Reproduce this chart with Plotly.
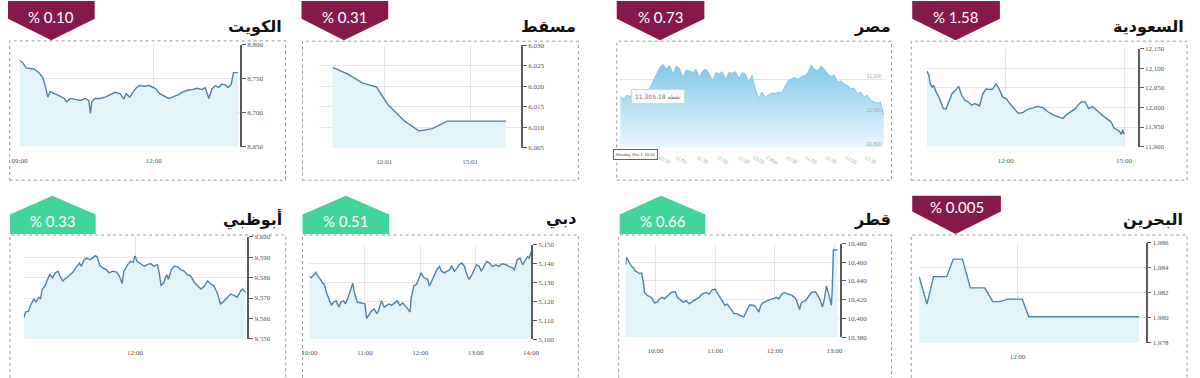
import pandas as pd
import plotly.graph_objects as go

DAY = "2021-03-01 "

# ---------------- data ----------------
kuwait_time = ["09:00", "09:04", "09:09", "09:13", "09:20", "09:26", "09:31", "09:34", "09:38", "09:41",
               "09:46", "09:53", "10:00", "10:03", "10:08", "10:15", "10:22", "10:28", "10:33", "10:35",
               "10:37", "10:41", "10:48", "10:55", "11:01", "11:08", "11:15", "11:20", "11:23", "11:28",
               "11:32", "11:37", "11:41", "11:48", "11:54", "11:59", "12:03", "12:08", "12:14", "12:20",
               "12:25", "12:32", "12:38", "12:45", "12:52", "12:58", "13:05", "13:09", "13:14", "13:18",
               "13:23", "13:27", "13:31", "13:36", "13:40", "13:44", "13:47", "13:51", "13:53"]
kuwait_value = [8777, 8774, 8766, 8765, 8764, 8759, 8752, 8742, 8723, 8731,
                8728, 8725, 8721, 8716, 8721, 8719, 8718, 8721, 8718, 8699,
                8716, 8721, 8721, 8723, 8726, 8730, 8728, 8720, 8728, 8723,
                8730, 8737, 8740, 8739, 8740, 8737, 8735, 8728, 8724, 8721,
                8723, 8726, 8730, 8733, 8734, 8736, 8734, 8737, 8721, 8735,
                8740, 8737, 8742, 8741, 8737, 8742, 8759, 8759, 8759]

muscat_time = ["10:13", "10:44", "11:15", "11:45", "12:09", "12:44", "13:14", "13:42", "14:13", "14:47", "16:16"]
muscat_value = [6024.6, 6023.0, 6020.8, 6019.8, 6015.5, 6011.5, 6009.1, 6009.7, 6011.5, 6011.5, 6011.5]

egypt_value = [11098, 11088, 11108, 11098, 11136, 11131, 11127, 11136, 11142, 11146,
               11194, 11233, 11271, 11290, 11261, 11285, 11233, 11281, 11265, 11213,
               11256, 11252, 11242, 11261, 11213, 11252, 11261, 11233, 11194, 11242,
               11236, 11246, 11200, 11242, 11238, 11246, 11204, 11242, 11233, 11185,
               11227, 11146, 11088, 11127, 11098, 11108, 11123, 11117, 11127, 11123,
               11156, 11194, 11204, 11213, 11200, 11219, 11223, 11242, 11285, 11261,
               11252, 11281, 11261, 11233, 11219, 11227, 11185, 11194, 11175, 11165,
               11146, 11150, 11117, 11127, 11098, 11108, 11079, 11069, 11060, 11069, 10992]
egypt_tick_pos = [12, 17, 23.5, 29.5, 36, 40.5, 44.5, 50.5, 56.5, 62.5, 68.5, 74.5, 79.5]
egypt_tick_text = ["10:30", "11:00", "11:30", "12:00", "12:30", "13:00", "2 Mar", "10:30",
                   "11:00", "11:30", "12:00", "12:30", "13:00"]
egypt_y_ticks = [10800, 11000, 11200]

saudi_time = ["10:00", "10:03", "10:05", "10:08", "10:10", "10:14", "10:18", "10:21", "10:25", "10:29",
              "10:33", "10:38", "10:43", "10:48", "10:53", "10:58", "11:03", "11:08", "11:13", "11:20",
              "11:25", "11:30", "11:36", "11:40", "11:45", "11:50", "11:55", "12:01", "12:06", "12:12",
              "12:19", "12:26", "12:34", "12:42", "12:49", "12:57", "13:04", "13:12", "13:20", "13:27",
              "13:32", "13:40", "13:46", "13:50", "13:55", "14:01", "14:06", "14:12", "14:18", "14:25",
              "14:33", "14:40", "14:45", "14:50", "14:53", "14:56", "14:58", "15:00"]
saudi_value = [12093, 12081, 12060, 12052, 12057, 12039, 12027, 12014, 11997, 11996,
               12014, 12035, 12043, 12054, 12031, 12018, 12014, 12006, 12010, 12004,
               12035, 12047, 12046, 12047, 12060, 12047, 12027, 12022, 12010, 11999,
               11985, 11987, 11996, 11999, 12003, 11999, 11989, 11981, 11977, 11972,
               11981, 11989, 11997, 12006, 12014, 12014, 11997, 12002, 11993, 11985,
               11972, 11964, 11947, 11943, 11939, 11931, 11943, 11932]

abudhabi_time = ["10:00", "10:02", "10:05", "10:08", "10:11", "10:13", "10:16", "10:18", "10:20", "10:23",
                 "10:25", "10:28", "10:31", "10:34", "10:37", "10:39", "10:42", "10:46", "10:49", "10:53",
                 "10:56", "11:00", "11:02", "11:05", "11:08", "11:11", "11:14", "11:17", "11:19", "11:22",
                 "11:25", "11:29", "11:32", "11:36", "11:40", "11:43", "11:46", "11:48", "11:52", "11:55",
                 "11:58", "12:00", "12:02", "12:06", "12:10", "12:13", "12:17", "12:20", "12:24", "12:26",
                 "12:28", "12:31", "12:34", "12:36", "12:39", "12:42", "12:46", "12:49", "12:53", "12:56",
                 "13:00", "13:04", "13:07", "13:11", "13:15", "13:18", "13:22", "13:25", "13:29", "13:32",
                 "13:36", "13:40", "13:43", "13:47", "13:50", "13:54", "13:56", "13:59"]
abudhabi_value = [9560.3, 9563.1, 9563.5, 9567.1, 9569.6, 9568.0, 9570.4, 9569.6, 9574.4, 9576.0,
                  9578.4, 9581.6, 9580.0, 9582.4, 9583.2, 9580.8, 9578.4, 9580.0, 9580.8, 9582.7,
                  9584.8, 9587.2, 9585.6, 9588.8, 9589.6, 9588.8, 9589.6, 9590.7, 9590.4, 9585.9,
                  9584.8, 9584.0, 9582.4, 9583.2, 9582.7, 9580.8, 9577.2, 9583.2, 9586.4, 9588.0,
                  9587.5, 9590.7, 9588.0, 9586.9, 9585.6, 9586.4, 9586.9, 9585.6, 9586.4, 9582.4,
                  9576.0, 9577.6, 9581.6, 9579.2, 9584.0, 9585.6, 9585.3, 9584.0, 9583.2, 9581.6,
                  9580.8, 9577.6, 9576.0, 9574.4, 9576.0, 9578.4, 9576.8, 9576.0, 9572.0, 9567.1,
                  9568.6, 9570.4, 9572.0, 9571.2, 9570.4, 9573.6, 9574.4, 9572.8]

dubai_time = ["10:00", "10:02", "10:05", "10:07", "10:09", "10:12", "10:14", "10:16", "10:19", "10:22",
              "10:24", "10:26", "10:29", "10:32", "10:34", "10:37", "10:39", "10:42", "10:45", "10:47",
              "10:49", "10:52", "10:56", "11:00", "11:02", "11:05", "11:07", "11:10", "11:13", "11:15",
              "11:18", "11:21", "11:24", "11:26", "11:29", "11:32", "11:35", "11:38", "11:41", "11:45",
              "11:49", "11:50", "11:53", "11:56", "11:58", "12:01", "12:04", "12:08", "12:10", "12:13",
              "12:15", "12:18", "12:21", "12:23", "12:26", "12:29", "12:32", "12:34", "12:37", "12:40",
              "12:42", "12:45", "12:48", "12:51", "12:53", "12:56", "12:58", "13:01", "13:04", "13:06",
              "13:09", "13:12", "13:15", "13:18", "13:22", "13:25", "13:29", "13:33", "13:36", "13:40",
              "13:42", "13:45", "13:48", "13:51", "13:53", "13:56", "13:58", "14:00"]
dubai_value = [5133.3, 5132.4, 5134.1, 5135.3, 5133.3, 5131.6, 5129.8, 5129.0, 5123.8, 5120.3,
               5117.8, 5119.5, 5120.3, 5116.9, 5119.5, 5120.3, 5118.6, 5122.1, 5126.4, 5129.5,
               5123.8, 5119.5, 5119.1, 5118.6, 5110.9, 5113.4, 5114.7, 5116.0, 5113.4, 5115.2,
               5120.3, 5116.9, 5117.8, 5118.6, 5117.8, 5119.1, 5120.3, 5117.8, 5119.1, 5116.9,
               5114.3, 5121.2, 5128.1, 5129.0, 5131.6, 5135.0, 5132.4, 5131.6, 5128.1, 5131.6,
               5134.1, 5136.7, 5138.4, 5135.9, 5135.0, 5135.9, 5136.7, 5138.8, 5135.9, 5137.6,
               5139.3, 5140.2, 5138.4, 5133.3, 5131.6, 5134.1, 5135.9, 5139.3, 5138.4, 5135.9,
               5138.4, 5141.0, 5140.2, 5138.4, 5139.3, 5138.4, 5139.8, 5139.3, 5138.4, 5137.6,
               5136.7, 5141.9, 5142.8, 5139.3, 5141.0, 5143.6, 5142.8, 5146.2]

qatar_time = ["09:30", "09:31", "09:33", "09:36", "09:38", "09:40", "09:42", "09:44", "09:46", "09:48",
              "09:49", "09:52", "09:54", "09:57", "09:59", "10:02", "10:04", "10:07", "10:09", "10:13",
              "10:16", "10:20", "10:22", "10:26", "10:28", "10:31", "10:34", "10:37", "10:41", "10:44",
              "10:47", "10:51", "10:54", "10:57", "11:00", "11:02", "11:05", "11:07", "11:10", "11:12",
              "11:15", "11:17", "11:19", "11:22", "11:25", "11:29", "11:32", "11:35", "11:39", "11:41",
              "11:44", "11:46", "11:48", "11:52", "11:55", "11:58", "12:02", "12:04", "12:07", "12:10",
              "12:13", "12:17", "12:20", "12:22", "12:25", "12:27", "12:31", "12:34", "12:37", "12:41",
              "12:43", "12:45", "12:48", "12:50", "12:52", "12:54", "12:56", "12:57", "12:58", "12:59",
              "13:03"]
qatar_value = [10457.4, 10465.4, 10460.8, 10455.6, 10453.9, 10450.4, 10449.3, 10447.9, 10448.6, 10438.2,
               10427.7, 10424.3, 10423.6, 10420.8, 10416.6, 10417.3, 10420.8, 10422.5, 10420.8, 10424.9,
               10427.7, 10428.4, 10422.5, 10419.0, 10417.3, 10419.0, 10415.5, 10418.0, 10420.1, 10422.5,
               10426.0, 10427.7, 10426.0, 10430.5, 10431.2, 10427.7, 10422.5, 10419.0, 10413.8, 10415.5,
               10412.0, 10408.6, 10405.1, 10405.1, 10403.3, 10401.6, 10408.6, 10414.5, 10413.8, 10412.0,
               10406.8, 10413.8, 10416.6, 10419.0, 10420.1, 10420.8, 10422.5, 10420.8, 10426.0, 10427.7,
               10426.0, 10424.9, 10422.5, 10419.0, 10409.6, 10417.3, 10419.0, 10423.6, 10427.7, 10428.4,
               10424.3, 10421.5, 10412.0, 10420.8, 10434.7, 10427.7, 10419.0, 10413.8, 10434.7, 10473.0,
               10473.0]

bahrain_time = ["09:30", "09:42", "09:52", "10:12", "10:22", "10:36", "10:48", "11:10", "11:22", "11:32",
                "11:45", "12:07", "12:17", "15:05"]
bahrain_value = [1983.3, 1981.1, 1983.3, 1983.3, 1984.7, 1984.7, 1982.4, 1982.4, 1981.3, 1981.3,
                 1981.5, 1981.5, 1980.1, 1980.1]

titles = ["الكويت", "مسقط", "مصر", "السعودية", "أبوظبي", "دبي", "قطر", "البحرين"]
changes = ["% 0.10", "% 0.31", "% 0.73", "% 1.58", "% 0.33", "% 0.51", "% 0.66", "% 0.005"]
direction = ["down", "down", "down", "down", "up", "up", "up", "down"]

# ---------------- styling / layout helpers ----------------
W, H = 1200, 378
LINE = "#4f82a3"
FILL = "#e3f4f9"
GRID = "#e6e6e6"
AXC = "#5a5a5a"
PURPLE = "#86194c"
GREEN = "#42d59b"
TICKFONT = dict(family="Liberation Serif", size=7, color="#555555")


def fx(p):
    return p / W


def fy(p):
    return 1 - p / H


def T(lst):
    return pd.to_datetime([DAY + t for t in lst])


fig = go.Figure()
layout_axes = {}


def add_panel(k, x, y, xdom, ydom, xrange, yrange, dtick, xticks):
    sfx = "" if k == 1 else str(k)
    fig.add_trace(go.Scatter(
        x=x, y=y, mode="lines", line=dict(color=LINE, width=1.4),
        fill="tozeroy", fillcolor=FILL, xaxis="x" + sfx, yaxis="y" + sfx,
        hoverinfo="skip", showlegend=False))
    layout_axes["xaxis" + sfx] = dict(
        domain=[fx(xdom[0]), fx(xdom[1])], range=xrange, anchor="y" + sfx,
        showgrid=True, gridcolor=GRID, gridwidth=1, showline=False, zeroline=False,
        ticks="", tickvals=xticks, tickformat="%H:%M", tickfont=TICKFONT,
        ticklabelstandoff=8, fixedrange=True)
    layout_axes["yaxis" + sfx] = dict(
        domain=[fy(ydom[1]), fy(ydom[0])], range=yrange, anchor="x" + sfx, side="right",
        showline=True, linecolor=AXC, linewidth=1.5, ticks="outside", ticklen=4,
        tickcolor=AXC, tickwidth=1, dtick=dtick, tick0=yrange[0], tickformat=",d",
        tickfont=TICKFONT, showgrid=True, gridcolor=GRID, zeroline=False, fixedrange=True)


add_panel(1, T(kuwait_time), kuwait_value, (11.7, 235.7), (41.7, 145.7),
          [T(["09:00"])[0], T(["13:56"])[0]], [8650, 8800], 50, T(["09:00", "12:00"]))
add_panel(2, T(muscat_time), muscat_value, (316, 521), (42, 147),
          [T(["09:45"])[0], T(["16:48"])[0]], [6005, 6030], 5, T(["12:01", "15:01"]))
add_panel(4, T(saudi_time), saudi_value, (933, 1147), (45.7, 145.7),
          [T(["10:00"])[0], T(["15:21"])[0]], [11900, 12150], 50, T(["12:00", "15:00"]))
add_panel(5, T(abudhabi_time), abudhabi_value, (16, 243), (238, 342),
          [T(["10:00"])[0], T(["14:01"])[0]], [9550, 9600], 10, T(["12:00"]))
add_panel(6, T(dubai_time), dubai_value, (306, 531), (245.7, 342.3),
          [T(["10:00"])[0], T(["14:00"])[0]], [5100, 5150], 10,
          T(["10:00", "11:00", "12:00", "13:00", "14:00"]))
add_panel(7, T(qatar_time), qatar_value, (627, 845), (244.7, 340.3),
          [T(["09:30"])[0], T(["13:06"])[0]], [10380, 10480], 20,
          T(["10:00", "11:00", "12:00", "13:00"]))
add_panel(8, T(bahrain_time), bahrain_value, (925, 1155), (244, 346.3),
          [T(["09:30"])[0], T(["15:15"])[0]], [1978, 1986], 2, T(["12:00"]))

# Egypt: embedded style chart with gradient fill
egypt_x = list(range(len(egypt_value)))
fig.add_trace(go.Scatter(
    x=egypt_x, y=egypt_value, mode="lines", line=dict(color="#86cbea", width=1),
    fill="tozeroy",
    fillgradient=dict(type="vertical", start=10800, stop=11300,
                      colorscale=[[0, "rgb(238,248,252)"], [1, "rgb(128,199,232)"]]),
    xaxis="x3", yaxis="y3", hoverinfo="skip", showlegend=False))
layout_axes["xaxis3"] = dict(
    domain=[fx(621), fx(890)], range=[-0.2, 80.3], anchor="y3", showgrid=False,
    showline=False, zeroline=False, ticks="", tickvals=egypt_tick_pos, ticktext=egypt_tick_text,
    tickfont=dict(family="Liberation Sans", size=5, color="#aaaaaa"), ticklabelstandoff=5,
    fixedrange=True)
layout_axes["yaxis3"] = dict(
    domain=[fy(146.7), fy(42)], range=[10800, 11403], anchor="x3", side="right",
    showline=False, ticks="", tickvals=egypt_y_ticks, tickformat=",d",
    ticklabelposition="inside top",
    tickfont=dict(family="Liberation Sans", size=5, color="#aaaaaa"),
    showgrid=True, gridcolor="#e4e4e4", zeroline=False, fixedrange=True)

# ---------------- shapes: dotted boxes and badges ----------------
shapes = []
boxes = [(1.7, 37.7, 281.7, 180), (299, 38, 579, 180), (618, 38, 897, 180), (917, 38, 1197, 180),
         (2, 236, 282, 400), (299, 236, 579, 400), (620, 236, 897, 400), (917, 236, 1197, 400)]
for (x0, y0, x1, y1) in boxes:
    shapes.append(dict(type="rect", xref="paper", yref="paper", x0=fx(x0), x1=fx(x1),
                       y0=fy(y1), y1=fy(y0), line=dict(color="#9a9a9a", width=1, dash="dot"),
                       fillcolor="rgba(0,0,0,0)", layer="below"))

badges = [  # x0, x1, xc, y_flat, y_shoulder, y_point, text_y
    (0, 88, 44, -3, 15, 37, 13),
    (298, 386, 341, -3, 15, 37, 13),
    (618, 707, 662, -3, 15, 37, 13),
    (918, 1007, 962, -3, 15, 37, 13),
    (2, 89, 45, 235, 215, 196, 222),
    (299, 387, 343, 235, 215, 196, 222),
    (621, 708, 663, 235, 215, 196, 222),
    (918, 1008, 962, 196, 212, 235, 207),
]
annotations = []
for i, (x0, x1, xc, yf, ys, yp, ty) in enumerate(badges):
    color = GREEN if direction[i] == "up" else PURPLE
    path = (f"M {fx(x0)},{fy(yf)} L {fx(x1)},{fy(yf)} L {fx(x1)},{fy(ys)} "
            f"L {fx(xc)},{fy(yp)} L {fx(x0)},{fy(ys)} Z")
    shapes.append(dict(type="path", xref="paper", yref="paper", path=path,
                       fillcolor=color, line=dict(width=0), layer="above"))
    annotations.append(dict(x=fx((x0 + x1) / 2), y=fy(ty), xref="paper", yref="paper",
                            text=changes[i], showarrow=False, xanchor="center", yanchor="middle",
                            font=dict(family="Lato", size=15, color="white")))

title_pos = [(280, 23), (579, 23), (898, 23), (1196, 23),
             (280, 220), (579, 220), (898, 220), (1195, 220)]
for i, (tx, ty) in enumerate(title_pos):
    annotations.append(dict(x=fx(tx), y=fy(ty), xref="paper", yref="paper",
                            text="<b>" + titles[i] + "</b>", showarrow=False,
                            xanchor="right", yanchor="middle",
                            font=dict(family="DejaVu Sans", size=16, color="#111111")))

# Egypt tooltip and crosshair label
annotations.append(dict(x=fx(660), y=fy(95), xref="paper", yref="paper",
                        text="11,305.18 نقطة", showarrow=False, xanchor="center", yanchor="middle",
                        font=dict(family="DejaVu Sans", size=6, color="#777777"),
                        bgcolor="rgba(255,255,255,0.9)", bordercolor="#cfd8dc", borderwidth=1,
                        borderpad=3))
annotations.append(dict(x=fx(637.5), y=fy(154), xref="paper", yref="paper",
                        text="Monday, Mar 1, 10:00", showarrow=False, xanchor="center",
                        yanchor="middle",
                        font=dict(family="Liberation Sans", size=4, color="#555555"),
                        bgcolor="white", bordercolor="#666666", borderwidth=1, borderpad=2))

fig.update_layout(
    width=W, height=H, margin=dict(l=0, r=0, t=0, b=0),
    paper_bgcolor="white", plot_bgcolor="white",
    shapes=shapes, annotations=annotations, showlegend=False,
    **layout_axes)

fig.write_html("out.html", config={"displayModeBar": False},
               post_script="document.body.style.margin='0px';document.body.style.overflow='hidden';")
